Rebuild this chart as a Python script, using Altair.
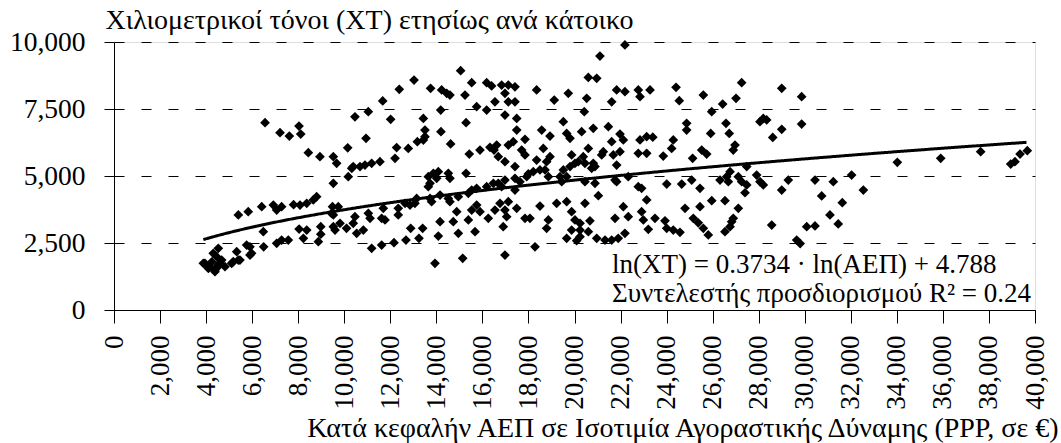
import altair as alt
import pandas as pd

# ---- data: (GDP per capita PPP €, tonne-km per inhabitant) ----
pts_low_income = [
    (3880,1740),(3950,1740),(4100,1550),(4170,1615),(4250,1800),(4385,1430),(4385,1490),
    (4310,2115),(4460,1990),(4450,1560),(4530,2300),(4530,1680),(4600,1750),(4675,1865),
    (4820,1615),(5110,1740),(5180,1805),(5330,2175),(5400,1865),(5470,1865),(5760,2425),
    (5905,2050),(5905,2360),(5975,2115),(6500,2360),(6485,2920),(7065,2490),(7280,2610),
    (7570,2610),(8040,3020),(8225,2675),(8370,2985),(8875,2550),(8980,2830),(8980,3110),
    (9450,3605),(9525,3110),(9600,2985),(9815,3235),(10100,3050),(10390,3235),
    (5400,3545),(5830,3670),(6415,3855),(6920,3915),(7065,3730),(7280,3855),(7800,3930),
    (8080,3915),(8370,3980),(8655,4105),(8800,4230),(9490,3855),(9740,3855),(9525,3545),
    (10465,3480),(9525,4725),(10175,4975),
    (6560,6990),(7210,6615),(7615,6490),(8035,6865),(8110,6565),(8440,5870),(8945,5720),
    (9525,5720),(9670,5475),(10150,6050),(10390,5350),(10465,7210),
]
pts_mid_income = [
    (11045,7400),(11670,7800),(12015,7115),(12390,8235),(13030,8580),(13750,8270),(14230,8210),
    (14450,8085),(14590,8020),(15055,8930),(15245,8020),(15535,8480),(16185,8480),(16400,8360),
    (15750,7585),(16185,7460),(16545,7770),(15290,6990),(14190,7460),(13435,7150),(13505,6715),
    (13505,6467),(13435,6340),(13175,6280),(12780,6030),(12275,6060),(12205,5660),(14200,6655),
    (14620,6195),(15430,5820),(15895,5970),(16330,6070),(16505,5970),(16620,6155),(10945,6405),
    (11550,5535),(11190,5475),(10900,5410),(10685,5350),(10325,5285),
    (13650,4975),(13870,5100),(14085,5160),(14015,4915),(13725,4725),(13650,4600),(14520,5100),
    (14590,4915),(15290,5100),
    (11045,3610),(11120,3420),(11625,3420),(11770,3360),(11695,3795),(12345,3795),(12345,3545),
    (12640,3980),(12855,3915),(13070,3980),(13145,4165),(13725,4165),(13795,4040),(14160,4290),
    (14520,4165),(14590,4040),(14955,4230),(14885,3670),(15390,4355),(15535,4475),(15750,4540),
    (15750,3915),(15535,3730),(15895,3670),(16255,3420),(16545,3730),(16185,4600),(16475,4725),
    (15390,3360),(14735,3295),(14160,3295),
    (14955,2860),(14085,2760),(15680,2920),(13405,3050),(12885,3050),(13245,2675),(12680,2610),
    (12160,2510),(11625,2425),(11190,2300),(10830,2985),(10540,2860),(13940,1740),(15145,1930),
]
pts_upper_mid_income = [
    (22190,9890),(21105,9475),(20600,8680),(20965,8645),(18355,8210),(19730,8085),(19120,7835),
    (20530,7900),(21830,8210),(22190,8145),(22770,8210),(22845,7960),(23280,8210),(21615,7770),
    (16835,8395),(17125,8395),(17415,8330),(16980,8085),(17125,7770),(17415,7770),(16980,7275),
    (17490,7150),(20425,7400),
    (17490,6715),(17850,6370),(18575,6715),(18935,6490),(19515,7025),(19660,6590),(19805,6405),
    (20310,6655),(20815,6780),(21470,6840),(21975,6565),(22120,6345),(22845,6345),(23135,6465),
    (23400,6450),(21615,6280),(21250,5905),(20600,6030),(20380,5720),(20815,5475),(20165,5535),
    (19875,5785),(19805,5350),(19515,5225),(19660,4975),(19370,4975),(18790,5535),(18645,6030),
    (18935,5720),(18720,5225),(18355,5595),(18210,5160),(17995,5075),(17850,5785),(17705,5970),
    (17415,5350),(17340,6280),(17125,6155),(16690,5720),(16980,5535),(16980,4850),(17415,4915),
    (17630,4790),(16835,4600),(17415,4475),(18500,5225),(20020,5475),(20455,5475),(20745,5285),
    (20890,5350),(21180,5785),(21685,5785),(21975,5905),(21830,5410),(21830,4790),(22335,4975),
    (22770,5845),(23135,5845),(22915,4540),
    (16690,4725),(17925,4975),(18865,4975),(19445,4790),(20455,4790),(20890,4725),(21760,4850),
    (16765,3980),(17125,4040),(16980,3730),(17490,3795),(17055,3480),(16905,3110),(17850,3420),
    (18065,3420),(18500,3880),(18865,3360),(18790,3050),(19225,3980),(19660,4040),(19875,3670),
    (20020,3360),(19875,2985),(20240,3235),(20240,2985),(20240,2735),(20670,3330),(20600,2920),
    (20965,2675),(21325,2610),(21615,2610),(21900,2675),(22190,2860),(19660,2675),(20095,2585),
    (20455,3980),(21035,4265),(21760,3420),(22120,3855),(22335,3480),(22915,3670),(22990,3360),
    (23205,3010),(23135,4105),(18285,2360),(16980,2050),(22770,4600),
]
pts_high_income = [
    (24410,8310),(24550,7810),(25595,8020),(27260,8480),(27015,7900),(26435,7685),(25960,7400),
    (29000,8270),(29865,7960),(28200,7150),(28345,7090),(28055,7025),(29000,6740),(28610,6440),
    (29865,6940),(24870,6965),(24870,6715),(26580,6965),(26720,6590),(25915,6590),(24290,6345),
    (24220,6030),(23855,5745),(25130,5660),(25525,5970),(25740,5820),(26970,6155),(26895,5970),
    (24005,4700),(24655,4700),(25090,4850),(25450,4540),(26320,4850),(26610,4975),(26755,5160),
    (26680,4790),(27115,4975),(27260,4790),(27480,4665),(27405,4375),(27910,5035),(28055,4790),
    (28200,4665),(27480,5350),(29285,4850),(29000,4475),
    (24800,3795),(25450,3855),(25960,4080),(26535,4080),(27115,3795),(23495,3420),(23930,3330),
    (24005,3050),(24290,2985),(24580,2900),(25160,3420),(25375,3255),(25595,3050),(25810,2800),
    (26535,2920),(26825,3295),(26895,3420),(26755,3110),(28565,3170),(29650,2610),(29800,2480),
    (30085,3110),
]
pts_top_income = [
    (30445,4850),(31240,4790),(32035,5035),(30735,4255),(31630,4005),(32545,4475),(31095,3545),
    (31455,3210),(30445,3135),(34020,5510),(35905,5660),(37640,5905),(38945,5445),(39130,5535),
    (39350,5820),(39665,5945),
]

# fitted power curve printed on the chart: ln(XT) = 0.3734*ln(GDP) + 4.788
fit_slope = 0.3734
fit_intercept = 4.788

x_ticks = list(range(0, 40001, 2000))
y_ticks = [0, 2500, 5000, 7500, 10000]

y_title = "Χιλιομετρικοί τόνοι (ΧΤ) ετησίως ανά κάτοικο"
x_title = "Κατά κεφαλήν ΑΕΠ σε Ισοτιμία Αγοραστικής Δύναμης (PPP, σε €)"
eq_line1 = "ln(ΧΤ) = 0.3734 · ln(ΑΕΠ) + 4.788"
eq_line2 = "Συντελεστής προσδιορισμού R² = 0.24"

# ---- build ----
all_pts = pts_low_income + pts_mid_income + pts_upper_mid_income + pts_high_income + pts_top_income
df = pd.DataFrame(all_pts, columns=["gdp", "tk"])
xmin, xmax = float(df.gdp.min()), float(df.gdp.max())

FONT = "Liberation Serif, Times New Roman, DejaVu Serif, serif"
W, H = 921, 268

xscale = alt.Scale(domain=[0, 40000], nice=False)
yscale = alt.Scale(domain=[0, 10000], nice=False)

xaxis = alt.Axis(values=x_ticks, format=",d", labelAngle=270, labelOverlap=False, labelFlush=False,
                 tickSize=13, labelPadding=12, grid=False, title=x_title,
                 labelFontSize=27, titleFontSize=28,
                 titleX=944, titleY=126, titleAlign="right", titleBaseline="alphabetic",
                 titleAnchor="end")
yaxis = alt.Axis(values=y_ticks, format=",d", labelFlush=False, labelOverlap=False,
                 tickSize=10, labelPadding=19, grid=True, gridDash=[10, 17],
                 gridColor="black", gridOpacity=1, gridWidth=1,
                 labelFontSize=27.5, titleFontSize=28,
                 title=y_title, titleAngle=0, titleX=-9, titleY=-14,
                 titleAlign="left", titleBaseline="alphabetic", titleAnchor="start")

points = alt.Chart(df).mark_point(shape="diamond", filled=True, size=95, color="black",
                                  opacity=1, strokeWidth=0).encode(
    x=alt.X("gdp:Q", scale=xscale, axis=xaxis),
    y=alt.Y("tk:Q", scale=yscale, axis=yaxis),
)

curve = alt.Chart(alt.sequence(xmin, xmax + 1, 50, as_="gdp")).transform_calculate(
    tk=f"exp({fit_intercept}) * pow(datum.gdp, {fit_slope})"
).mark_line(color="black", strokeWidth=3).encode(
    x=alt.X("gdp:Q", scale=xscale),
    y=alt.Y("tk:Q", scale=yscale),
)

def eq_text(txt, ypix):
    return alt.Chart(pd.DataFrame({"txt": [txt]})).mark_text(
        align="left", baseline="alphabetic", font=FONT, fontSize=27, color="black"
    ).encode(x=alt.value(498), y=alt.value(ypix), text="txt:N")

chart = alt.layer(points, curve, eq_text(eq_line1, 231), eq_text(eq_line2, 260)).properties(
    width=W, height=H,
    padding={"left": 114, "top": 42, "right": 26, "bottom": 133},
    autosize=alt.AutoSizeParams(type="none"),
).configure_view(stroke=None).configure(font=FONT).configure_axis(
    labelFont=FONT, titleFont=FONT,
    labelColor="black", titleColor="black", titleFontWeight="normal",
    domainColor="black", tickColor="black", domainWidth=1, tickWidth=1,
)

chart.save("out.html", embed_options={"renderer": "svg", "actions": False})
